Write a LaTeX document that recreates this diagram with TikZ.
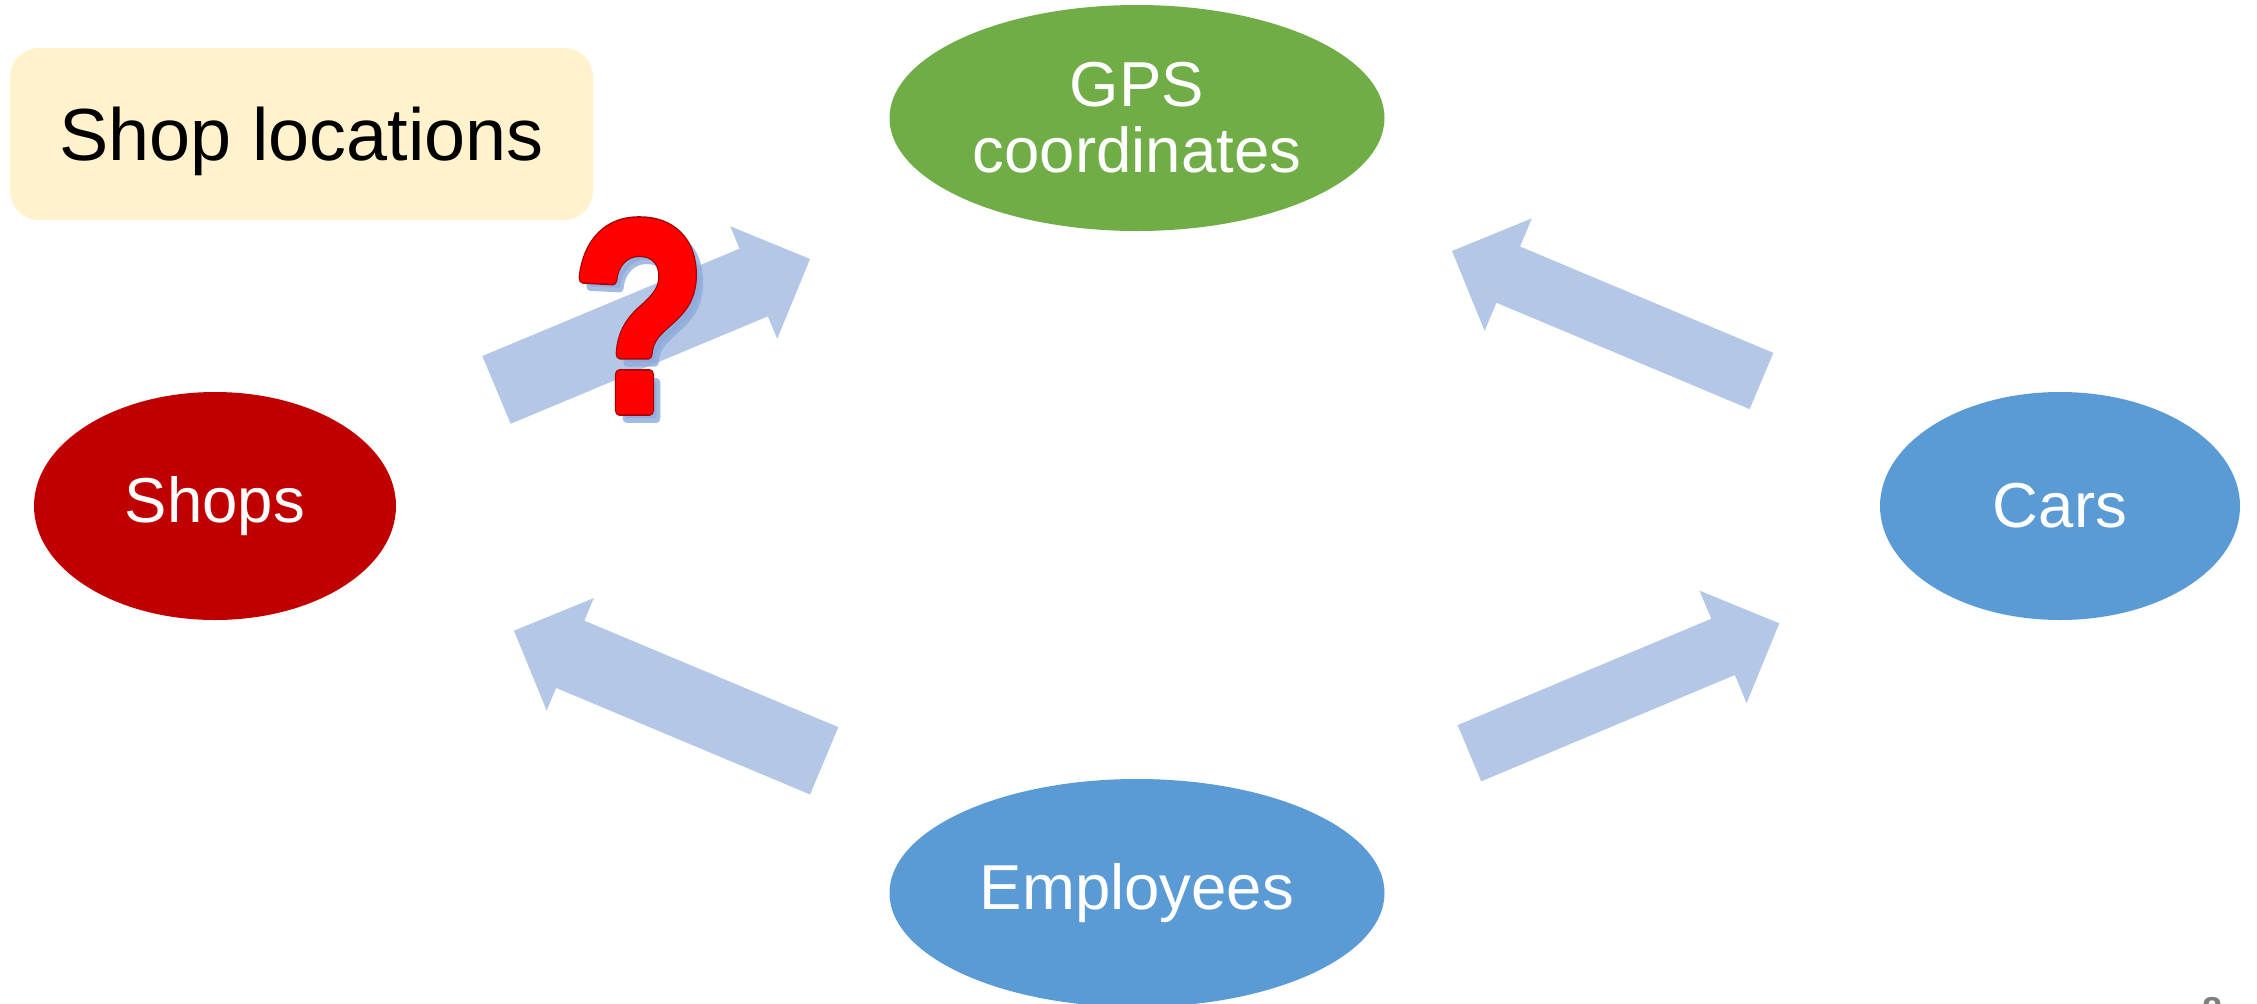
\documentclass[tikz,border=0pt]{standalone}
\usepackage{fontspec}
\setmainfont{Liberation Sans}
\usetikzlibrary{shapes.geometric,calc}
\definecolor{gpsgreen}{HTML}{70AD47}
\definecolor{shopred}{HTML}{C00000}
\definecolor{nodeblue}{HTML}{5B9BD5}
\definecolor{arrowblue}{HTML}{B4C7E7}
\definecolor{notebg}{HTML}{FFF2CC}
\definecolor{qred}{HTML}{FF0000}
\definecolor{qdark}{HTML}{A80000}
\definecolor{qshadowc}{HTML}{8FAADC}
\definecolor{pagenum}{HTML}{7F7F7F}
% glyph drawn with fill and a round-joined outline: #1 RGB of outline, #2 width, #3 text
\newcommand\qstroke[3]{\special{pdf:literal direct 2 Tr 1 j #2 w #1 RG}#3\special{pdf:literal direct 0 Tr 0 j}}
\tikzset{
  entity/.style={ellipse, draw=none, inner sep=0pt, text=white,
    font=\fontsize{63.5}{66}\selectfont, align=center},
  notebox/.style={rectangle, rounded corners=29pt, fill=notebg, inner sep=0pt,
    text height=52.8pt, text depth=0pt,
    minimum width=583pt, minimum height=172pt, font=\fontsize{73.8}{80}\selectfont},
  qglyph/.style={inner sep=0pt, xscale=0.8, font=\bfseries\fontsize{270}{270}\selectfont},
  blockfill/.style={fill=arrowblue}
}
\newcommand\blockarrow[3]{% #1 tail, #2 tip, #3 half shaft width
  \coordinate (#1-base) at ($(#2)!61pt!(#1)$);
  \fill[blockfill] ($(#1)!#3!90:(#2)$) -- ($(#1-base)!#3!90:(#2)$)
    -- ($(#1-base)!61pt!90:(#2)$) -- (#2) -- ($(#1-base)!61pt!-90:(#2)$)
    -- ($(#1-base)!#3!-90:(#2)$) -- ($(#1)!#3!-90:(#2)$) -- cycle;}
\begin{document}
\begin{tikzpicture}[x=1pt,y=-1pt]
\useasboundingbox (0,0) rectangle (2257,1004);
\clip (0,0) rectangle (2257,1004);
\fill[white] (0,0) rectangle (2257,1004);

% entities
\node[entity, fill=gpsgreen, minimum width=495pt, minimum height=226pt] (gps) at (1137,118) {GPS\\coordinates};
\node[entity, fill=shopred, minimum width=362pt, minimum height=228pt] (shops) at (215,506) {Shops};
\node[entity, fill=nodeblue, minimum width=360pt, minimum height=228pt] (cars) at (2060,506) {Cars};
\node[entity, fill=nodeblue, minimum width=495pt, minimum height=228pt] (emp) at (1137,893) {Employees};

% block arrows
\coordinate (a1t) at (496.5,389.9); \coordinate (a1h) at (810,259);
\coordinate (a2t) at (1761.5,381);  \coordinate (a2h) at (1452,251);
\coordinate (a3t) at (824.2,760.8); \coordinate (a3h) at (514,630.7);
\coordinate (a4t) at (1469.4,753.2);\coordinate (a4h) at (1779.3,623.3);
\blockarrow{a1t}{a1h}{36.7pt}
\blockarrow{a2t}{a2h}{30.5pt}
\blockarrow{a3t}{a3h}{36.5pt}
\blockarrow{a4t}{a4h}{30.5pt}

% note
\node[notebox] (note) at (301.5,134) {Shop locations};

% question mark (shadow, dark rim, red body)
\coordinate (q) at (639,316);
\node[qglyph, text=qshadowc, opacity=0.8] (qsh) at ($(q)+(7,8)$) {\qstroke{0.56 0.67 0.86}{9}{?}};
\node[qglyph, text=qdark] (qrim) at (q) {\qstroke{0.66 0 0}{11}{?}};
\node[qglyph, text=qred] (qm) at (q) {\qstroke{1 0 0}{8}{?}};

% page number (cut off)
\node[inner sep=0pt, anchor=north, text=pagenum, font=\bfseries\fontsize{36}{36}\selectfont] (pg) at (2212,997) {8};
\end{tikzpicture}
\end{document}
